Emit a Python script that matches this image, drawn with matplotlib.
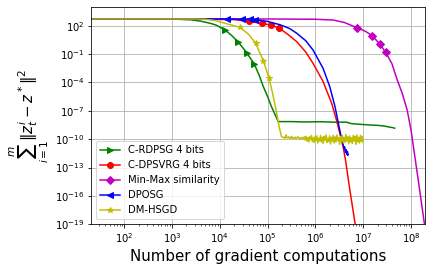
import matplotlib
matplotlib.use("Agg")
import matplotlib.pyplot as plt
import numpy as np

# values, as log10(x) / log10(y)
rdpsg_logx = [1.31, 3.0, 3.4, 3.6, 3.8, 3.92, 4.11, 4.25, 4.39, 4.56, 4.72, 4.82, 4.91, 5.0, 5.08, 5.19,
              5.22, 5.5, 5.8, 6.1, 6.4, 6.65, 6.75, 6.86, 7.0, 7.14, 7.25, 7.35, 7.45, 7.56, 7.62, 7.66]
rdpsg_logy = [2.71, 2.70, 2.62, 2.48, 2.25, 2.07, 1.55, 0.95, 0.25, -0.85, -2.04, -3.2, -4.44, -5.5, -6.55, -7.78,
              -8.14, -8.14, -8.18, -8.15, -8.2, -8.2, -8.35, -8.4, -8.45, -8.5, -8.52, -8.56, -8.62, -8.73, -8.78, -8.84]
rdpsg_marks = [6, 8, 9, 10]

dpsvrg_logx = [1.31, 3.5, 4.3, 4.61, 4.89, 5.08, 5.24, 5.42, 5.61, 5.8, 5.95, 6.16, 6.34, 6.44, 6.51,
               6.58, 6.63, 6.71, 6.83, 6.88]
dpsvrg_logy = [2.71, 2.70, 2.64, 2.45, 2.25, 2.05, 1.75, 1.1, 0.31, -0.8, -1.97, -3.9, -6.2, -7.96, -9.36,
               -10.8, -12.2, -15.0, -18.9, -20.5]
dpsvrg_marks = [3, 4, 5, 6]

minmax_logx = [1.31, 5.0, 6.0, 6.37, 6.6, 6.87, 7.05, 7.19, 7.35, 7.47, 7.6, 7.70, 7.82, 7.92, 8.0,
               8.08, 8.16, 8.28, 8.32]
minmax_logy = [2.71, 2.71, 2.68, 2.6, 2.35, 1.79, 1.4, 0.94, 0.04, -0.81, -2.0, -3.55, -5.2, -6.9, -9.0,
               -11.8, -14.6, -18.9, -20.3]
minmax_marks = [5, 7, 8, 9]

dposg_logx = [1.31, 3.5, 4.14, 4.46, 4.63, 4.73, 5.0, 5.26, 5.46, 5.61, 5.8, 5.95, 6.16, 6.30, 6.41,
              6.48, 6.53, 6.57, 6.60, 6.61, 6.63, 6.64, 6.66, 6.67, 6.68, 6.67]
dposg_logy = [2.71, 2.71, 2.71, 2.69, 2.67, 2.65, 2.45, 2.1, 1.7, 1.2, 0.4, -0.57, -2.5, -4.44, -6.55,
              -8.3, -9.54, -10.4, -11.0, -10.8, -11.4, -11.1, -11.6, -11.3, -11.7, -11.5]
dposg_marks = [2, 3, 4, 5]

hsgd_logx = [1.31, 3.5, 3.69, 3.9, 4.11, 4.42, 4.6, 4.75, 4.91, 5.03, 5.12, 5.19, 5.24, 5.29]
hsgd_logy = [2.71, 2.71, 2.68, 2.55, 2.25, 1.83, 1.1, 0.14, -1.7, -3.55, -5.5, -7.25, -8.66, -9.72]
hsgd_marks = [5, 7, 8, 9]
# noisy floor of DM-HSGD, from 10^5.31 to 10^7
hsgd_tail_logy = [-9.80, -9.85, -9.78, -9.90, -9.55, -9.82, -9.88, -9.75, -9.92, -9.85, -9.70, -9.95,
                  -9.82, -9.90, -9.78, -9.96, -9.84, -9.72, -9.93, -9.86, -9.98, -9.80, -9.90, -10.0, -9.75,
                  -10.1, -9.7, -10.2, -9.8, -10.3, -9.75, -10.05, -9.6, -10.25, -9.85, -10.35, -9.7, -10.15,
                  -9.65, -10.4, -9.9, -10.2, -9.6, -10.3, -9.8, -10.45, -9.7, -10.1, -9.55, -10.35, -9.9,
                  -10.25, -9.65, -10.5, -9.8, -10.2, -9.6, -10.4, -9.75, -10.3, -9.55, -10.15, -9.85, -10.55,
                  -9.7, -10.25, -9.6, -10.4, -9.8, -10.35, -9.5, -10.2, -9.75, -10.5, -9.65, -10.3, -9.85,
                  -10.45, -9.6, -10.2, -9.7, -10.55, -9.55, -10.3, -9.8, -10.4, -9.6, -10.25, -9.7, -10.35]
hsgd_tail_range = (5.31, 7.0)

labels = ["C-RDPSG 4 bits", "C-DPSVRG 4 bits", "Min-Max similarity", "DPOSG", "DM-HSGD"]

hsgd_all_logx = hsgd_logx + list(np.linspace(hsgd_tail_range[0], hsgd_tail_range[1], len(hsgd_tail_logy)))
hsgd_all_logy = hsgd_logy + hsgd_tail_logy

series = [
    (rdpsg_logx, rdpsg_logy, rdpsg_marks, "g", ">"),
    (dpsvrg_logx, dpsvrg_logy, dpsvrg_marks, "r", "o"),
    (minmax_logx, minmax_logy, minmax_marks, "m", "D"),
    (dposg_logx, dposg_logy, dposg_marks, "b", "<"),
    (hsgd_all_logx, hsgd_all_logy, hsgd_marks, "y", "*"),
]

fig = plt.figure(figsize=(6, 271 / 72), dpi=72)
ax = fig.add_axes([0.2113, 0.1723, 0.7732, 0.8008])

for (lx, ly, marks, c, m), lab in zip(series, labels):
    ax.plot(10 ** np.array(lx), 10 ** np.array(ly), color=c, marker=m, markevery=marks, label=lab)

ax.set_xscale("log")
ax.set_yscale("log")
ax.set_xlim(10 ** 1.31, 10 ** 8.30)
ax.set_ylim(1e-19, 10 ** 3.946)
ax.grid(True)
ax.set_xlabel("Number of gradient computations", fontsize=15)
ax.set_ylabel(r"$\sum_{i=1}^{m}\|z_t^i - z^*\|^2$", fontsize=15)
ax.legend(loc="lower left")

fig.savefig("out.png", dpi=72)
